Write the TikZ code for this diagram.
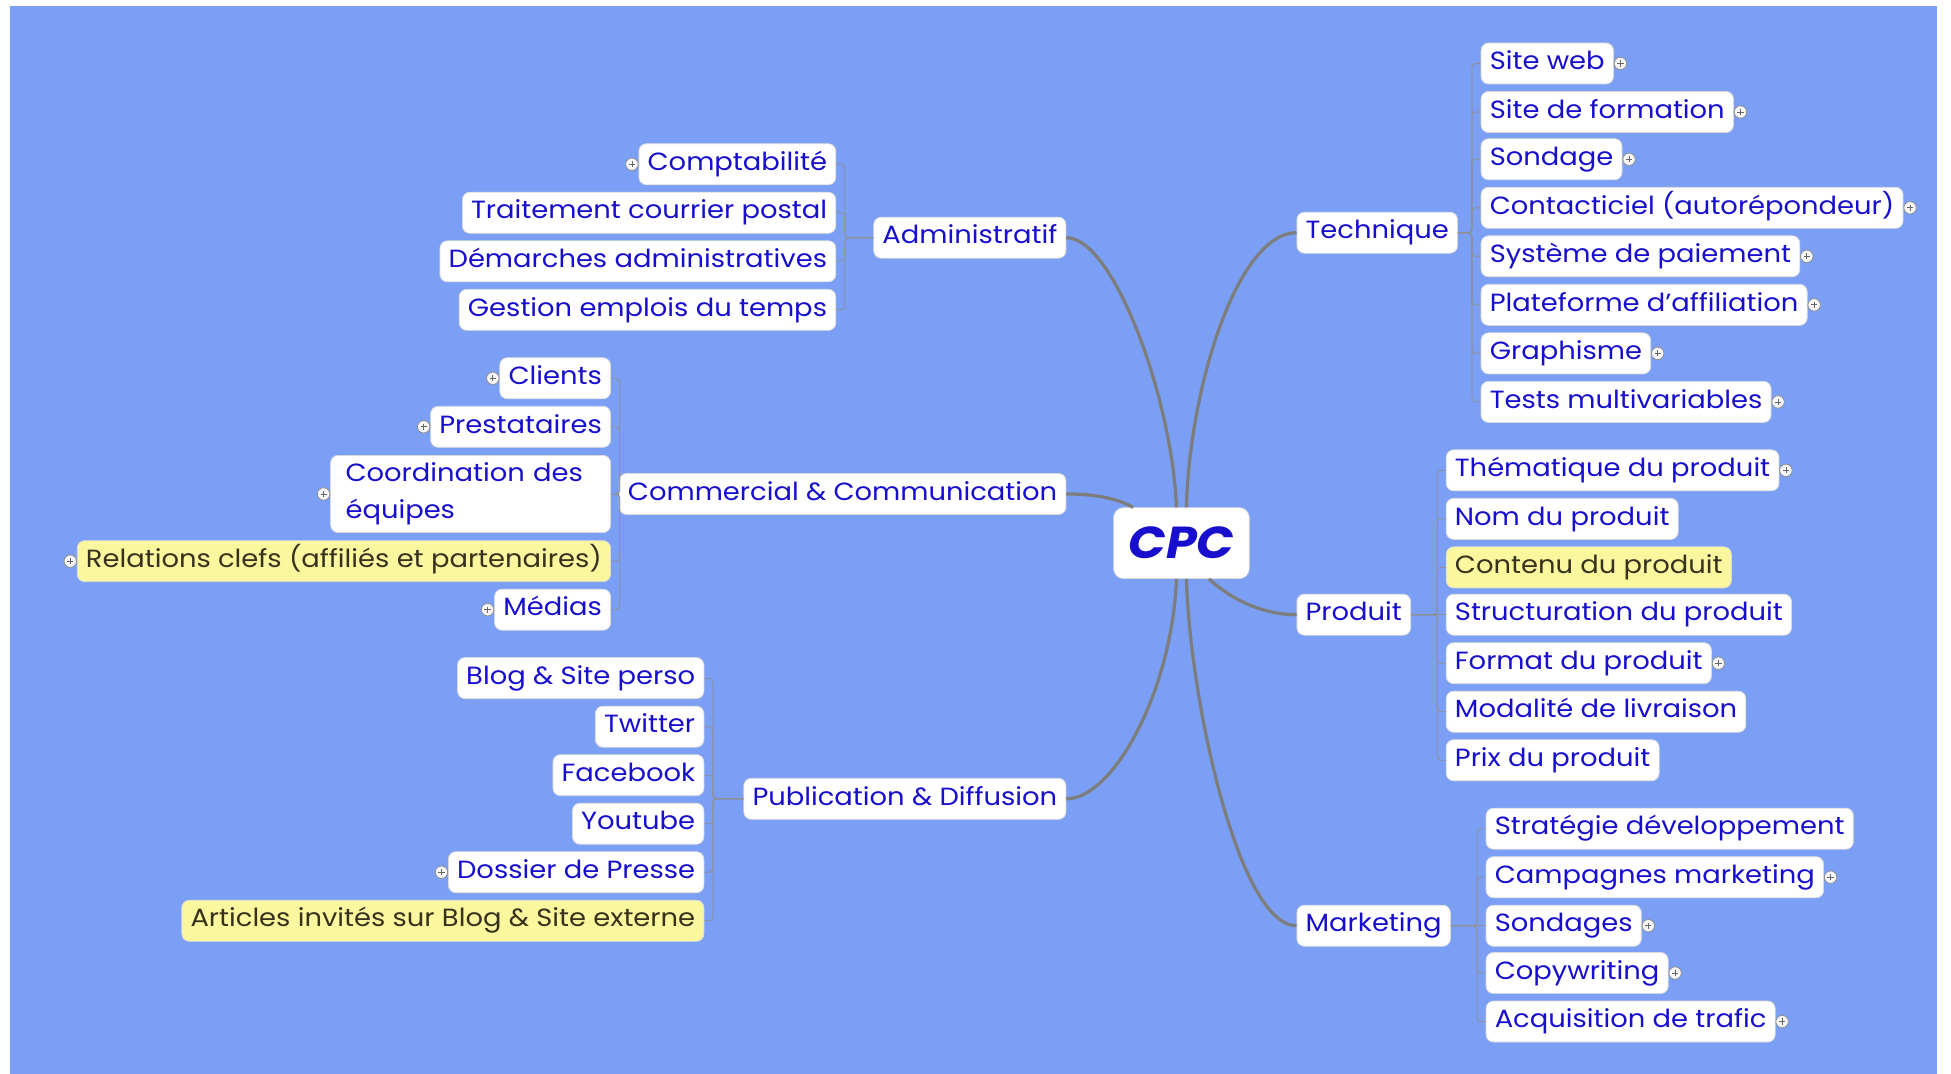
\documentclass[tikz,border=0pt]{standalone}
\usepackage{fontspec}
\setmainfont{Poppins}[FakeStretch=1.1]
\usetikzlibrary{positioning}

\definecolor{sky}{RGB}{122,159,244}
\definecolor{ink}{RGB}{24,14,205}
\definecolor{note}{RGB}{250,247,158}
\definecolor{notetext}{RGB}{55,50,30}
\definecolor{wire}{RGB}{125,125,125}

\tikzset{%
  box/.style={
    draw=black!15, line width=0.6pt, fill=white, rounded corners=6pt,
    text=ink, font=\fontsize{20}{30}\selectfont,
    inner xsep=7pt, inner ysep=2pt, minimum height=33pt
  },
  item/.style={box, text height=15pt, text depth=5pt},
  hilite/.style={item, fill=note, text=notetext},
  hub/.style={
    box, font=\fontsize{36}{40}\selectfont\bfseries\itshape,
    minimum width=109pt, minimum height=57pt, rounded corners=8pt
  },
  twig/.style={draw=wire!85, line width=0.6pt, rounded corners=3pt},
  bough/.style={draw=wire, line width=2.6pt},
  plusdot/.style={
    circle, draw=black!45, fill=black!3, inner sep=0pt, minimum size=10pt,
    text height=0pt, text depth=0pt, line width=0.6pt,
    path picture={\draw[black!60, line width=0.6pt]
      ([xshift=-2.5pt]path picture bounding box.center) -- ([xshift=2.5pt]path picture bounding box.center)
      ([yshift=-2.5pt]path picture bounding box.center) -- ([yshift=2.5pt]path picture bounding box.center);}
  },
  plusR/.style={label distance=2pt, label={[plusdot]right:}},
  plusL/.style={label distance=2pt, label={[plusdot]left:}}
}

\begin{document}
\begin{tikzpicture}[x=1pt, y=1pt]
  \fill[white] (0,0) rectangle (1568,-863);
  \fill[sky] (8,-5) rectangle (1557,-863);
  \useasboundingbox (0,0) rectangle (1568,-863);

  % centre and main topics
  \node[hub] (cpc) at (949.5,-436.5) {CPC};
  \node[item, anchor=east] (admin) at (857,-191) {Administratif};
  \node[item, anchor=east] (comm) at (857,-397) {Commercial \& Communication};
  \node[item, anchor=east] (publi) at (857,-642) {Publication \& Diffusion};
  \node[item, anchor=west] (tech) at (1042,-187) {Technique};
  \node[item, anchor=west] (prod) at (1042,-494) {Produit};
  \node[item, anchor=west] (mark) at (1042,-744) {Marketing};

  % Technique
  \node[item, plusR, anchor=west] (t1) at (1190,-51) {Site web};
  \node[item, plusR, anchor=west] (t2) at (1190,-90) {Site de formation};
  \node[item, plusR, anchor=west] (t3) at (1190,-128) {Sondage};
  \node[item, plusR, anchor=west] (t4) at (1190,-167) {Contacticiel (autorépondeur)};
  \node[item, plusR, anchor=west] (t5) at (1190,-206) {Système de paiement};
  \node[item, plusR, anchor=west] (t6) at (1190,-245) {Plateforme d'affiliation};
  \node[item, plusR, anchor=west] (t7) at (1190,-284) {Graphisme};
  \node[item, plusR, anchor=west] (t8) at (1190,-323) {Tests multivariables};

  % Produit
  \node[item, plusR, anchor=west] (r1) at (1162,-378) {Thématique du produit};
  \node[item, anchor=west] (r2) at (1162,-417) {Nom du produit};
  \node[hilite, anchor=west] (r3) at (1162,-456) {Contenu du produit};
  \node[item, anchor=west] (r4) at (1162,-494) {Structuration du produit};
  \node[item, plusR, anchor=west] (r5) at (1162,-533) {Format du produit};
  \node[item, anchor=west] (r6) at (1162,-572) {Modalité de livraison};
  \node[item, anchor=west] (r7) at (1162,-611) {Prix du produit};

  % Marketing
  \node[item, anchor=west] (m1) at (1194,-666) {Stratégie développement};
  \node[item, plusR, anchor=west] (m2) at (1194,-705) {Campagnes marketing};
  \node[item, plusR, anchor=west] (m3) at (1194,-744) {Sondages};
  \node[item, plusR, anchor=west] (m4) at (1194,-782) {Copywriting};
  \node[item, plusR, anchor=west] (m5) at (1194,-821) {Acquisition de trafic};

  % Administratif
  \node[item, plusL, anchor=east] (a1) at (672,-132) {Comptabilité};
  \node[item, anchor=east] (a2) at (672,-171) {Traitement courrier postal};
  \node[item, anchor=east] (a3) at (672,-210) {Démarches administratives};
  \node[item, anchor=east] (a4) at (672,-249) {Gestion emplois du temps};

  % Commercial & Communication
  \node[item, plusL, anchor=east] (c1) at (491,-304) {Clients};
  \node[item, plusL, anchor=east] (c2) at (491,-343) {Prestataires};
  \node[box, plusL, anchor=east, align=left, text width=201pt, inner xsep=12pt, minimum height=62pt] (c3) at (491,-397) {Coordination des\\équipes};
  \node[hilite, plusL, anchor=east] (c4) at (491,-451) {Relations clefs (affiliés et partenaires)};
  \node[item, plusL, anchor=east] (c5) at (491,-490) {Médias};

  % Publication & Diffusion
  \node[item, anchor=east] (p1) at (566,-545) {Blog \& Site perso};
  \node[item, anchor=east] (p2) at (566,-584) {Twitter};
  \node[item, anchor=east] (p3) at (566,-623) {Facebook};
  \node[item, anchor=east] (p4) at (566,-662) {Youtube};
  \node[item, plusL, anchor=east] (p5) at (566,-701) {Dossier de Presse};
  \node[hilite, anchor=east] (p6) at (566,-740) {Articles invités sur Blog \& Site externe};

  % main branches
  \draw[bough] ([xshift=-4pt]cpc.north) .. controls (942,-320) and (895,-191) .. (admin.east);
  \draw[bough] ([xshift=16pt]cpc.north west) .. controls (900,-402) and (885,-397) .. (comm.east);
  \draw[bough] ([xshift=-4pt]cpc.south) .. controls (942,-555) and (895,-642) .. (publi.east);
  \draw[bough] ([xshift=4pt]cpc.north) .. controls (956,-310) and (995,-187) .. (tech.west);
  \draw[bough] ([xshift=22pt]cpc.south) .. controls (990,-482) and (1015,-494) .. (prod.west);
  \draw[bough] ([xshift=4pt]cpc.south) .. controls (956,-560) and (995,-744) .. (mark.west);

  % sub branches
  \draw[twig] (tech.east) -| ([xshift=-7pt]t1.west) -- (t1.west);
  \draw[twig] (tech.east) -| ([xshift=-7pt]t2.west) -- (t2.west);
  \draw[twig] (tech.east) -| ([xshift=-7pt]t3.west) -- (t3.west);
  \draw[twig] (tech.east) -| ([xshift=-7pt]t4.west) -- (t4.west);
  \draw[twig] (tech.east) -| ([xshift=-7pt]t5.west) -- (t5.west);
  \draw[twig] (tech.east) -| ([xshift=-7pt]t6.west) -- (t6.west);
  \draw[twig] (tech.east) -| ([xshift=-7pt]t7.west) -- (t7.west);
  \draw[twig] (tech.east) -| ([xshift=-7pt]t8.west) -- (t8.west);
  \draw[twig] (prod.east) -| ([xshift=-7pt]r1.west) -- (r1.west);
  \draw[twig] (prod.east) -| ([xshift=-7pt]r2.west) -- (r2.west);
  \draw[twig] (prod.east) -| ([xshift=-7pt]r3.west) -- (r3.west);
  \draw[twig] (prod.east) -- (r4.west);
  \draw[twig] (prod.east) -| ([xshift=-7pt]r5.west) -- (r5.west);
  \draw[twig] (prod.east) -| ([xshift=-7pt]r6.west) -- (r6.west);
  \draw[twig] (prod.east) -| ([xshift=-7pt]r7.west) -- (r7.west);
  \draw[twig] (mark.east) -| ([xshift=-7pt]m1.west) -- (m1.west);
  \draw[twig] (mark.east) -| ([xshift=-7pt]m2.west) -- (m2.west);
  \draw[twig] (mark.east) -- (m3.west);
  \draw[twig] (mark.east) -| ([xshift=-7pt]m4.west) -- (m4.west);
  \draw[twig] (mark.east) -| ([xshift=-7pt]m5.west) -- (m5.west);
  \draw[twig] (admin.west) -| ([xshift=7pt]a1.east) -- (a1.east);
  \draw[twig] (admin.west) -| ([xshift=7pt]a2.east) -- (a2.east);
  \draw[twig] (admin.west) -| ([xshift=7pt]a3.east) -- (a3.east);
  \draw[twig] (admin.west) -| ([xshift=7pt]a4.east) -- (a4.east);
  \draw[twig] (comm.west) -| ([xshift=7pt]c1.east) -- (c1.east);
  \draw[twig] (comm.west) -| ([xshift=7pt]c2.east) -- (c2.east);
  \draw[twig] (comm.west) -- (c3.east);
  \draw[twig] (comm.west) -| ([xshift=7pt]c4.east) -- (c4.east);
  \draw[twig] (comm.west) -| ([xshift=7pt]c5.east) -- (c5.east);
  \draw[twig] (publi.west) -| ([xshift=7pt]p1.east) -- (p1.east);
  \draw[twig] (publi.west) -| ([xshift=7pt]p2.east) -- (p2.east);
  \draw[twig] (publi.west) -| ([xshift=7pt]p3.east) -- (p3.east);
  \draw[twig] (publi.west) -| ([xshift=7pt]p4.east) -- (p4.east);
  \draw[twig] (publi.west) -| ([xshift=7pt]p5.east) -- (p5.east);
  \draw[twig] (publi.west) -| ([xshift=7pt]p6.east) -- (p6.east);
\end{tikzpicture}
\end{document}
